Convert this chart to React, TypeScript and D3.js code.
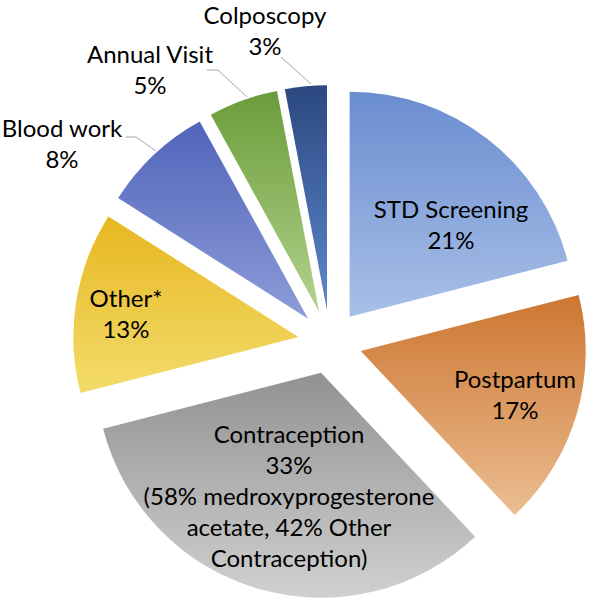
import React from "react";
import * as d3 from "d3";

const categories = ["STD Screening", "Postpartum", "Contraception", "Other*", "Blood work", "Annual Visit", "Colposcopy"];
const values = [21, 17, 33, 13, 8, 5, 3];
const percentLabels = ["21%", "17%", "33%", "13%", "8%", "5%", "3%"];
const extraLines: string[][] = [[], [], ["(58% medroxyprogesterone", "acetate, 42% Other", "Contraception)"], [], [], [], []];

const gradTop = ["#6a8dd0", "#cd7631", "#929292", "#e7b720", "#5164ba", "#6a9c3a", "#2b4880"];
const gradBottom = ["#a8c0e7", "#ebbd91", "#d0d0d0", "#f3dc6c", "#8c9cd8", "#b2d28c", "#5e88cd"];

// layout (not data)
const W = 592, H = 600;
const CX = 330, CY = 342, R = 225, EXPLODE = 32;
const FONT = "Lato, 'Open Sans', sans-serif";
const FS = 24;
const LINE = 31;
// label anchor: [x, first baseline]
const labelPos: [number, number][] = [
  [451, 218],
  [515, 388],
  [289, 443],
  [126, 307],
  [62, 137],
  [150, 63],
  [265, 24],
];
// leader lines for outside labels (index -> polyline points)
const leaders: Record<number, [number, number][]> = {
  4: [[126, 137], [136, 137], [156, 151]],
  5: [[207, 70], [218, 70], [247, 97]],
  6: [[281, 57], [311, 84]],
};

export default function App() {
  const pie = d3.pie<number>().sort(null).value((d) => d).startAngle(0).endAngle(2 * Math.PI);
  const arcs = pie(values);
  const arcGen = d3.arc<d3.PieArcDatum<number>>().innerRadius(0).outerRadius(R);

  return (
    <svg width={W} height={H} style={{ position: "absolute", left: 0, top: 0 }}>
      <defs>
        {categories.map((c, i) => (
          <linearGradient key={c} id={`g${i}`} x1="0" y1="0" x2="0" y2="1">
            <stop offset="0%" stopColor={gradTop[i]} />
            <stop offset="100%" stopColor={gradBottom[i]} />
          </linearGradient>
        ))}
      </defs>
      <rect width={W} height={H} fill="#fff" />
      <g transform={`translate(${CX},${CY})`}>
        {arcs.map((a, i) => {
          const mid = (a.startAngle + a.endAngle) / 2;
          const dx = EXPLODE * Math.sin(mid);
          const dy = -EXPLODE * Math.cos(mid);
          return (
            <path key={categories[i]} d={arcGen(a) || ""} transform={`translate(${dx},${dy})`} fill={`url(#g${i})`} />
          );
        })}
      </g>
      {Object.entries(leaders).map(([k, pts]) => (
        <polyline key={k} points={pts.map((p) => p.join(",")).join(" ")} fill="none" stroke="#a6a6a6" strokeWidth={1} />
      ))}
      {categories.map((c, i) => {
        const [x, y] = labelPos[i];
        const lines = [c, percentLabels[i], ...extraLines[i]];
        return (
          <text key={c} x={x} y={y} textAnchor="middle" fontFamily={FONT} fontSize={FS} fill="#000">
            {lines.map((l, j) => (
              <tspan key={j} x={x} y={y + j * LINE}>{l}</tspan>
            ))}
          </text>
        );
      })}
    </svg>
  );
}
